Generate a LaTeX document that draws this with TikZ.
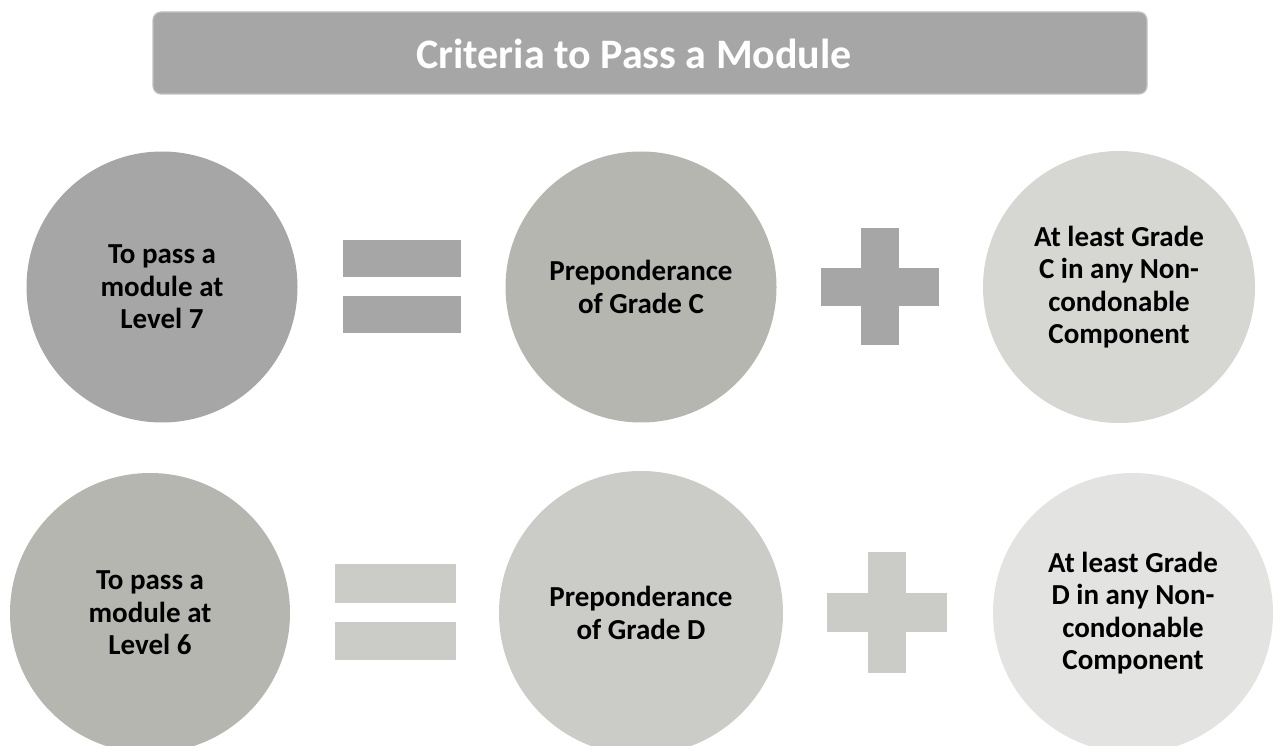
\documentclass[tikz,border=0pt]{standalone}
\usepackage{fontspec}
\setmainfont{Carlito}
\usepackage{xcolor}
\usetikzlibrary{positioning}
\definecolor{greyA}{HTML}{A6A6A6}
\definecolor{greyB}{HTML}{B5B6B0}
\definecolor{greyC}{HTML}{CBCCC7}
\definecolor{greyD}{HTML}{D6D7D3}
\definecolor{greyE}{HTML}{E3E3E1}

\begin{document}
\begin{tikzpicture}[x=1pt,y=-1pt,
    disc/.style={circle,minimum size=#1,inner sep=0pt,align=center,
        font=\bfseries\fontsize{29}{32.5}\selectfont},
    bar/.style={rectangle,inner sep=0pt,minimum width=#1},
    banner/.style={rectangle,rounded corners=8pt,fill=greyA,draw=greyA!70,
        line width=1.2pt,minimum width=994pt,minimum height=82pt}]
    \useasboundingbox (0,0) rectangle (1274,746);
    \node[banner] (banner) at (650,53) {};
    \node[text=white,font=\bfseries\fontsize{42}{48}\selectfont] (title) at (634,54) {Criteria to Pass a Module};

    % level 7
    \node[disc=271pt,fill=greyA] (lvl7) at (162,287) {To pass a\\module at\\Level 7};
    \node[bar=118pt,minimum height=37pt,fill=greyA] (eqtop7) at (402,258.5) {};
    \node[bar=118pt,minimum height=37pt,fill=greyA] (eqbot7) at (402,314.5) {};
    \node[disc=271pt,fill=greyB] (prep7) at (641,287) {Preponderance\\of Grade C};
    \node[bar=118pt,minimum height=38pt,fill=greyA] (plush7) at (880,287) {};
    \node[bar=38pt,minimum height=117pt,fill=greyA] (plusv7) at (880,286.5) {};
    \node[disc=272pt,fill=greyD] (comp7) at (1119,287) {At least Grade\\C in any Non-\\condonable\\Component};

    % level 6
    \node[disc=280pt,fill=greyB] (lvl6) at (150,613) {To pass a\\module at\\Level 6};
    \node[bar=121pt,minimum height=39pt,fill=greyC] (eqtop6) at (395.5,583.5) {};
    \node[bar=121pt,minimum height=38pt,fill=greyC] (eqbot6) at (395.5,641) {};
    \node[disc=284pt,fill=greyC] (prep6) at (641,613) {Preponderance\\of Grade D};
    \node[bar=120pt,minimum height=39pt,fill=greyC] (plush6) at (887,612.5) {};
    \node[bar=38pt,minimum height=121pt,fill=greyC] (plusv6) at (887,612.5) {};
    \node[disc=280pt,fill=greyE] (comp6) at (1133,613) {At least Grade\\D in any Non-\\condonable\\Component};
\end{tikzpicture}
\end{document}
